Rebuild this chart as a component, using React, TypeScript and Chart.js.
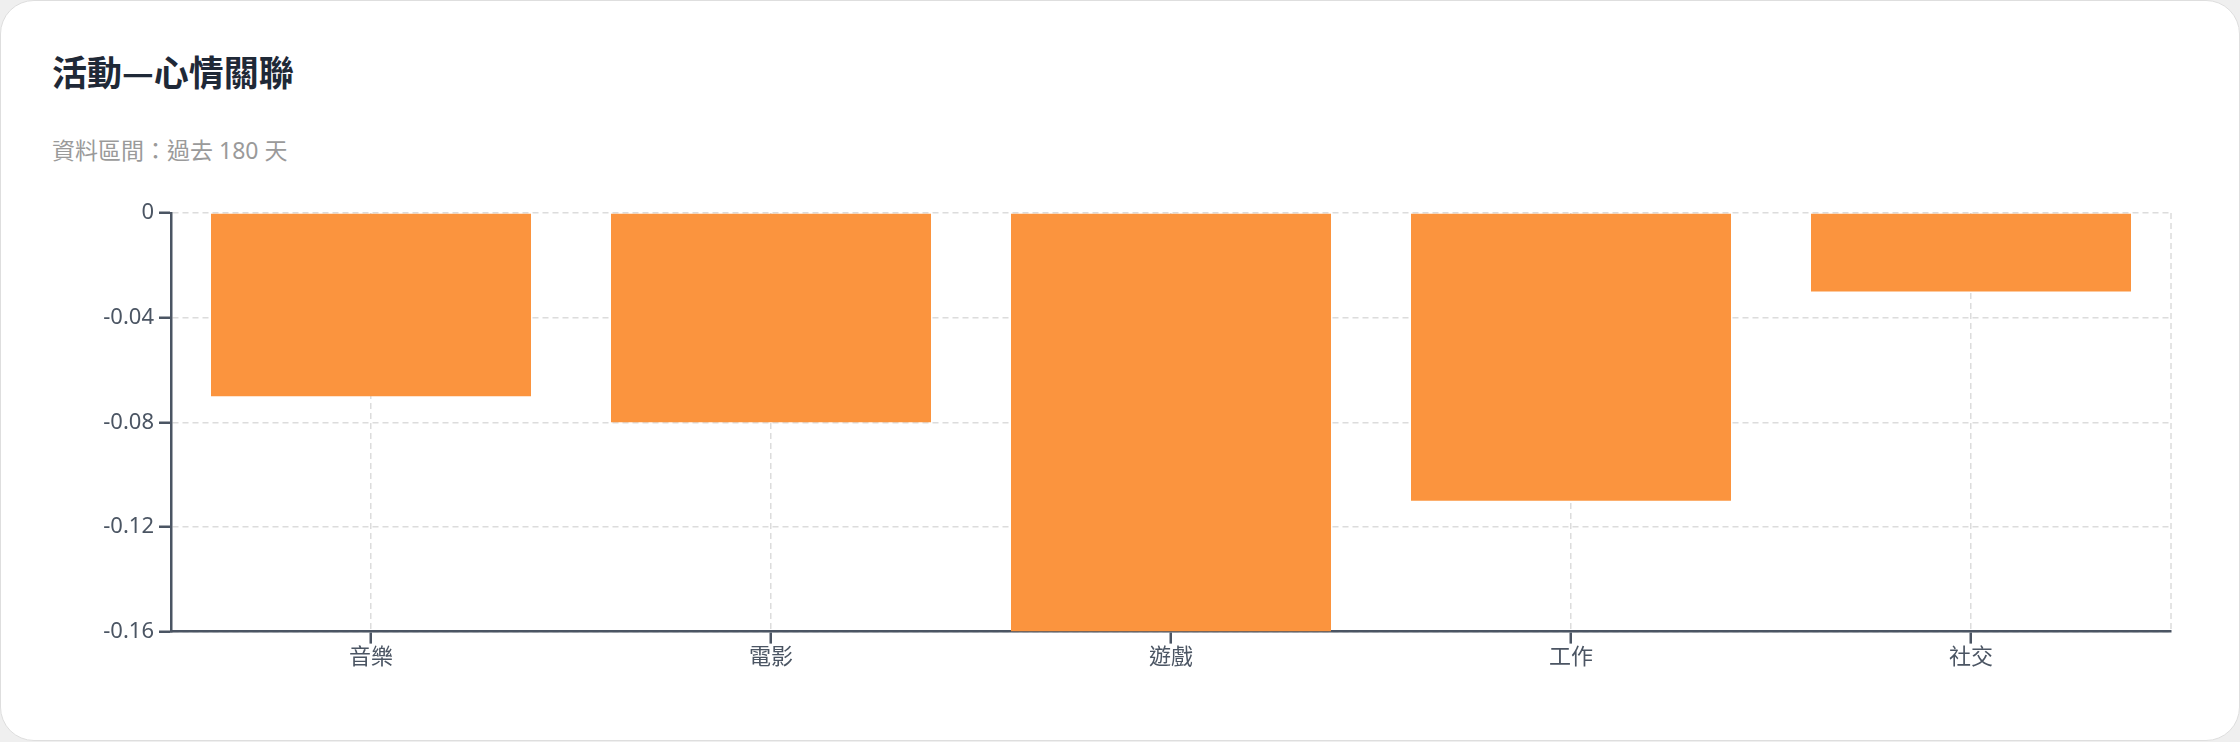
import { useEffect, useRef } from "react";
import { Chart, registerables } from "chart.js";

Chart.register(...registerables);

const activities = ["音樂", "電影", "遊戲", "工作", "社交"];
const correlation = [-0.07, -0.08, -0.16, -0.11, -0.03];
const yMin = -0.16;
const yMax = 0;
const yStep = 0.04;

const axisColor = "#4b5563";
const gridColor = "#dcdcdc";
const fontFamily = '"Noto Sans", "Noto Sans CJK TC", sans-serif';

// dashed line on the right edge of the plot, like the grid lines
const rightEdgeLine = {
  id: "rightEdgeLine",
  beforeDatasetsDraw(chart: Chart) {
    const { ctx, chartArea } = chart;
    ctx.save();
    ctx.strokeStyle = gridColor;
    ctx.lineWidth = 1.5;
    ctx.setLineDash([6, 4]);
    ctx.beginPath();
    ctx.moveTo(chartArea.right, chartArea.top);
    ctx.lineTo(chartArea.right, chartArea.bottom);
    ctx.stroke();
    ctx.restore();
  },
};

const BarChart = () => {
  const chartRef = useRef<HTMLCanvasElement>(null);
  const chartInstanceRef = useRef<Chart | null>(null);

  useEffect(() => {
    if (!chartRef.current) return;
    const ctx = chartRef.current.getContext("2d");
    if (!ctx) return;

    if (chartInstanceRef.current) {
      chartInstanceRef.current.destroy();
    }

    chartInstanceRef.current = new Chart(ctx, {
      type: "bar",
      data: {
        labels: activities,
        datasets: [
          {
            data: correlation,
            backgroundColor: "#fb943e",
            borderWidth: 0,
            barPercentage: 1,
            categoryPercentage: 0.8,
          },
        ],
      },
      options: {
        responsive: true,
        maintainAspectRatio: false,
        animation: false,
        layout: {
          padding: { left: 10, right: 12, top: 22, bottom: 9 },
        },
        plugins: {
          legend: { display: false },
          tooltip: { enabled: false },
        },
        scales: {
          x: {
            grid: {
              offset: false,
              color: gridColor,
              lineWidth: 1.5,
              tickColor: axisColor,
              tickWidth: 2.5,
              tickLength: 12,
            },
            border: { display: true, color: axisColor, width: 2.5, dash: [6, 4] },
            ticks: {
              color: axisColor,
              padding: 1,
              font: { family: fontFamily, size: 22 },
            },
          },
          y: {
            min: yMin,
            max: yMax,
            afterFit: (scale) => {
              scale.width = 68;
            },
            grid: {
              color: gridColor,
              lineWidth: 1.5,
              tickColor: axisColor,
              tickWidth: 2.5,
              tickLength: 12,
            },
            border: { display: true, color: axisColor, width: 2.5, dash: [6, 4] },
            ticks: {
              stepSize: yStep,
              color: axisColor,
              padding: 5,
              font: { family: fontFamily, size: 22 },
            },
          },
        },
      },
      plugins: [rightEdgeLine],
    });

    return () => {
      if (chartInstanceRef.current) {
        chartInstanceRef.current.destroy();
        chartInstanceRef.current = null;
      }
    };
  }, []);

  return (
    <div
      style={{
        position: "absolute",
        left: 92,
        top: 190,
        width: 2090,
        height: 490,
      }}
    >
      <canvas ref={chartRef}></canvas>
    </div>
  );
};

export default function App() {
  useEffect(() => {
    document.body.style.margin = "0";
    document.body.style.background = "#efefef";
  }, []);

  return (
    <div
      style={{
        position: "relative",
        width: 2240,
        height: 741,
        boxSizing: "border-box",
        background: "#fff",
        border: "1px solid #dedede",
        borderRadius: 34,
        fontFamily,
        overflow: "hidden",
      }}
    >
      <div
        style={{
          position: "absolute",
          left: 51,
          top: 52,
          fontSize: 35,
          lineHeight: "35px",
          fontWeight: 700,
          color: "#1f2937",
          fontFamily: '"Noto Sans CJK TC", sans-serif',
        }}
      >
        活動—心情關聯
      </div>
      <div
        style={{
          position: "absolute",
          left: 51,
          top: 138,
          fontSize: 23,
          lineHeight: "23px",
          color: "#9a9a9a",
        }}
      >
        資料區間：過去 180 天
      </div>
      <BarChart />
    </div>
  );
}
